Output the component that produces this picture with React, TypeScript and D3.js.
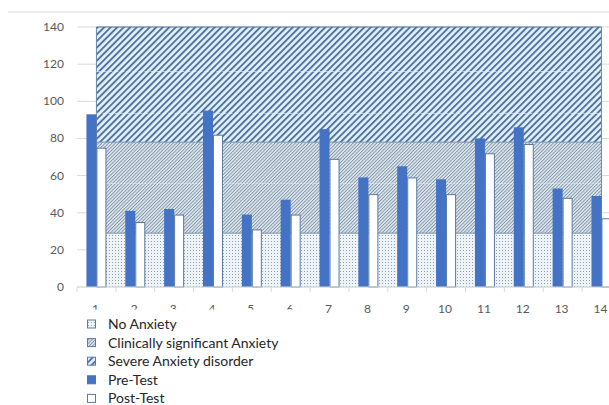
import React from "react";
import * as d3 from "d3";

const categories = ["1","2","3","4","5","6","7","8","9","10","11","12","13","14"];
const preTest = [93, 41, 42, 95, 39, 47, 85, 59, 65, 58, 80, 86, 53, 49];
const postTest = [75, 35, 39, 82, 31, 39, 69, 50, 59, 50, 72, 77, 48, 37];
const noAnxiety = [29, 29, 29, 29, 29, 29, 29, 29, 29, 29, 29, 29, 29, 29];
const clinicalAnxiety = [49, 49, 49, 49, 49, 49, 49, 49, 49, 49, 49, 49, 49, 49];
const severeAnxiety = [62, 62, 62, 62, 62, 62, 62, 62, 62, 62, 62, 62, 62, 62];
const yTicks = [0, 20, 40, 60, 80, 100, 120, 140];
const legendItems = ["No Anxiety", "Clinically significant Anxiety", "Severe Anxiety disorder", "Pre-Test", "Post-Test"];

const W = 609, H = 405;

export default function App() {
  const x = d3.scaleBand<string>().domain(categories).range([77, 77 + 14 * 38.85]).padding(0);
  const y = d3.scaleLinear().domain([0, 140]).range([287, 27]);
  const cx = (c: string) => (x(c) as number) + x.bandwidth() / 2;

  const stackData = categories.map((c, i) => ({ c, n: noAnxiety[i], cl: clinicalAnxiety[i], s: severeAnxiety[i] }));
  const stack = d3.stack<any>().keys(["n", "cl", "s"])(stackData);
  const area = d3.area<any>().x((d) => cx(d.data.c)).y0((d) => y(d[0])).y1((d) => y(d[1]));
  const line = d3.line<any>().x((d) => cx(d.data.c)).y((d) => y(d[1]));
  const fills = ["url(#dots)", "url(#fine)", "url(#wide)"];
  const barW = 10;
  const font = "Lato, 'Open Sans', sans-serif";
  const first = cx(categories[0]);
  const last = cx(categories[categories.length - 1]);

  return (
    <svg width={W} height={H} style={{ position: "absolute", left: 0, top: 0, background: "#fff" }}>
      <defs>
        <pattern id="wide" width="4.6" height="10" patternUnits="userSpaceOnUse" patternTransform="rotate(45)">
          <rect width="4.6" height="10" fill="#def1fc" />
          <rect width="1.9" height="10" fill="#56739f" />
        </pattern>
        <pattern id="fine" width="2.4" height="10" patternUnits="userSpaceOnUse" patternTransform="rotate(45)">
          <rect width="2.4" height="10" fill="#dfe8ee" />
          <rect width="0.9" height="10" fill="#7e93a6" />
        </pattern>
        <pattern id="dots" width="3" height="3" patternUnits="userSpaceOnUse">
          <rect width="3" height="3" fill="#eef3f7" />
          <rect x="1" y="1" width="1" height="1" fill="#8fa2b4" />
        </pattern>
      </defs>
      <line x1={8} x2={W} y1={12} y2={12} stroke="#d9d9d9" />
      {yTicks.map((t) => (
        <g key={t}>
          <line x1={77} x2={W} y1={y(t)} y2={y(t)} stroke="#d9d9d9" />
          <text x={64} y={y(t) + 4} textAnchor="end" fontFamily={font} fontSize={12} fill="#595959">{t}</text>
        </g>
      ))}
      {stack.map((s, i) => (
        <path key={i} d={area(s) as string} fill={fills[i]} />
      ))}
      {stack.map((s, i) => (
        <path key={"l" + i} d={line(s) as string} fill="none" stroke={i === 2 ? "#4f6e9c" : "#7b93aa"} strokeWidth={1} />
      ))}
      <line x1={first} x2={first} y1={y(140)} y2={y(0)} stroke="#6b86a8" />
      <line x1={last} x2={last} y1={y(140)} y2={y(0)} stroke="#6b86a8" />
      {[116, 93.5].map((v) => (
        <line key={v} x1={first} x2={last} y1={y(v)} y2={y(v)} stroke="#e8f4fc" strokeOpacity={0.7} strokeDasharray="4,2" />
      ))}
      <line x1={first} x2={last} y1={y(55.8)} y2={y(55.8)} stroke="#eef2f5" strokeOpacity={0.7} strokeDasharray="2,1" />
      {categories.map((c, i) => (
        <g key={c}>
          <rect x={cx(c) - barW} y={y(preTest[i])} width={barW} height={y(0) - y(preTest[i])} fill="#4472c4" />
          <rect x={cx(c) + 0.5} y={y(postTest[i]) + 0.5} width={barW - 1} height={y(0) - y(postTest[i]) - 0.5} fill="#fff" stroke="#5a7aa6" strokeWidth={1} />
        </g>
      ))}
      <line x1={77} x2={W} y1={y(0)} y2={y(0)} stroke="#d9d9d9" />
      {categories.map((c) => (
        <line key={"t" + c} x1={x(c) as number} x2={x(c) as number} y1={y(0)} y2={y(0) + 5} stroke="#d9d9d9" />
      ))}
      {categories.map((c) => (
        <text key={"x" + c} x={cx(c) - 1} y={313} textAnchor="middle" fontFamily={font} fontSize={12} fill="#595959">{c}</text>
      ))}
      <rect x={76} y={309.5} width={250} height={96} fill="#fff" />
      {legendItems.map((t, i) => {
        const ly = 324.5 + i * 18.6;
        const fill = i === 0 ? "url(#dots)" : i === 1 ? "url(#fine)" : i === 2 ? "url(#wide)" : i === 3 ? "#4472c4" : "#fff";
        return (
          <g key={t}>
            <rect x={87.5} y={ly - 4.5} width={8} height={8} fill={fill} stroke={i === 3 ? "#4472c4" : "#5a7aa6"} strokeWidth={1} />
            <text x={108} y={ly + 4.5} fontFamily={font} fontSize={14} fill="#262626">{t}</text>
          </g>
        );
      })}
    </svg>
  );
}
